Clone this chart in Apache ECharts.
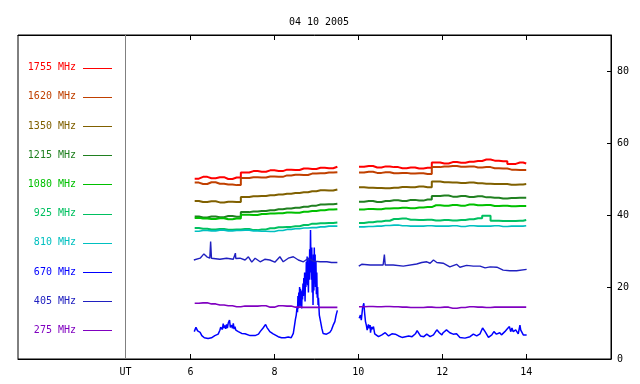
<!DOCTYPE html>
<html>
<head>
<meta charset="utf-8">
<script src="https://cdn.jsdelivr.net/npm/echarts@6/dist/echarts.min.js"></script>
<style>
html, body { margin: 0; padding: 0; background: #fff; }
#chart { width: 640px; height: 384px; }
</style>
</head>
<body>
<div id="chart"></div>
<script>
// title and axis labels
var chartTitle = '04 10 2005';
var utHour = 4.45;
var hourTicks = [6, 8, 10, 12, 14];
var levelTicks = [0, 20, 40, 60, 80];

// frequencies (legend order, top to bottom)
var freqNames = ['1755 MHz', '1620 MHz', '1350 MHz', '1215 MHz', '1080 MHz', '925 MHz', '810 MHz', '670 MHz', '405 MHz', '275 MHz'];
var freqColors = ['#ff0000', '#c04000', '#806000', '#208020', '#00c000', '#00c060', '#00c0c0', '#0000ff', '#2020c0', '#8000c0'];

// common time base (UT hours), '-' = data gap
var hoursA = [6.1, 6.3, 6.5, 6.7, 6.9, 7.1, 7.3, 7.5, 7.7, 7.9, 8.1, 8.3, 8.5, 8.7, 8.9, 9.1, 9.3, 9.5, 9.51, 10.01,
  10.02, 10.25, 10.45, 10.65, 10.85, 11.05, 11.25, 11.45, 11.65, 11.85, 12.05, 12.25, 12.45, 12.65, 12.85, 13.05, 13.25, 13.45, 13.65, 13.85, 14.0];

var mhz1755 = [50.1, 50.6, 50.2, 50.5, 50.0, 50.4, 51.8, 52.2, 52.0, 52.4, 52.2, 52.6, 52.5, 52.9, 52.8, 53.1, 53.0, 53.4, '-', '-',
  53.4, 53.6, 53.2, 53.5, 53.3, 53.0, 53.2, 52.9, 53.1, 54.6, 54.3, 54.7, 54.5, 54.8, 55.0, 55.4, 55.1, 54.9, 54.2, 54.6, 54.3];
var mhz1620 = [49.0, 48.6, 49.1, 48.7, 48.5, 48.3, 50.3, 50.5, 50.4, 50.7, 50.6, 51.0, 51.2, 51.1, 51.5, 51.6, 51.8, 51.9, '-', '-',
  51.8, 52.0, 51.7, 51.9, 51.6, 51.7, 51.5, 51.6, 51.4, 53.3, 53.5, 53.6, 53.4, 53.5, 53.2, 53.3, 53.0, 52.9, 52.6, 52.5, 52.5];
var mhz1350 = [43.9, 43.6, 43.8, 43.5, 43.7, 43.6, 45.0, 45.2, 45.3, 45.5, 45.7, 45.9, 46.1, 46.3, 46.6, 46.9, 46.8, 47.1, '-', '-',
  47.7, 47.6, 47.5, 47.4, 47.6, 47.8, 47.7, 47.9, 47.7, 49.3, 49.1, 49.0, 48.9, 49.0, 48.8, 48.7, 48.6, 48.6, 48.4, 48.5, 48.6];
var mhz1215 = [39.6, 39.3, 39.6, 39.4, 39.7, 39.5, 40.8, 41.0, 41.1, 41.3, 41.6, 41.8, 42.0, 42.3, 42.6, 42.9, 43.0, 43.1, '-', '-',
  43.7, 43.9, 43.6, 43.9, 44.1, 43.9, 44.2, 44.0, 44.3, 45.3, 45.4, 45.1, 45.3, 45.0, 45.2, 44.9, 44.8, 44.6, 44.7, 44.8, 44.8];
var mhz1080 = [39.2, 39.0, 38.9, 39.1, 38.8, 39.0, 40.1, 40.0, 40.3, 40.4, 40.5, 40.7, 40.6, 40.9, 41.1, 41.3, 41.5, 41.6, '-', '-',
  41.5, 41.7, 41.6, 41.8, 41.9, 42.0, 41.9, 42.1, 42.2, 42.7, 42.6, 42.8, 42.6, 42.9, 42.7, 42.8, 42.5, 42.6, 42.4, 42.5, 42.5];
var mhz925 = [36.4, 36.2, 36.0, 36.1, 35.9, 36.0, 36.1, 35.8, 36.0, 36.3, 36.6, 36.7, 36.9, 37.2, 37.6, 37.7, 37.8, 37.9, '-', '-',
  37.8, 38.0, 38.2, 38.4, 38.9, 39.0, 38.7, 38.6, 38.7, 38.5, 38.6, 38.5, 38.6, 38.8, 39.1, 39.8, 38.4, 38.3, 38.3, 38.4, 38.6];
var mhz810 = [35.5, 35.7, 35.6, 35.8, 35.6, 35.7, 35.8, 35.6, 35.5, 35.4, 35.7, 36.0, 36.2, 36.4, 36.5, 36.7, 36.9, 36.9, '-', '-',
  36.7, 36.8, 36.9, 37.1, 37.2, 37.0, 36.9, 36.9, 37.0, 36.9, 36.9, 37.0, 36.8, 37.0, 36.9, 36.9, 37.0, 36.8, 36.9, 36.9, 37.0];
var mhz275 = [15.5, 15.6, 15.3, 15.0, 14.8, 14.5, 14.7, 14.7, 14.8, 14.4, 14.8, 14.7, 14.4, 14.35, 14.35, 14.35, 14.35, 14.35, '-', '-',
  14.5, 14.6, 14.5, 14.6, 14.5, 14.4, 14.3, 14.3, 14.4, 14.3, 14.4, 14.1, 14.3, 14.5, 14.4, 14.3, 14.4, 14.4, 14.4, 14.4, 14.4];

// 405 MHz has its own sampling (narrow spikes)
var hours405 = [6.08, 6.23, 6.32, 6.39, 6.46, 6.48, 6.50, 6.54, 6.70, 6.86, 7.02, 7.07, 7.08, 7.18, 7.30, 7.38, 7.46, 7.54, 7.66, 7.77,
  7.89, 8.01, 8.13, 8.21, 8.33, 8.45, 8.57, 8.69, 8.81, 8.93, 9.09, 9.25, 9.36, 9.50, 9.75,
  10.01, 10.08, 10.28, 10.59, 10.62, 10.64, 10.83, 11.07, 11.39, 11.51, 11.63, 11.71, 11.79, 11.87, 12.02, 12.18, 12.34, 12.42,
  12.58, 12.74, 12.90, 13.02, 13.14, 13.30, 13.45, 13.61, 13.77, 14.01];
var mhz405 = [27.5, 28.0, 29.2, 28.4, 28.0, 32.6, 28.0, 28.0, 27.7, 28.0, 27.7, 29.4, 27.9, 28.0, 27.5, 28.4, 26.9, 28.0, 27.0, 27.7,
  27.5, 26.9, 28.4, 27.0, 28.0, 28.4, 27.5, 27.0, 28.0, 27.2, 27.0, 27.0, 26.8, 26.8, '-',
  25.8, 26.3, 26.1, 26.1, 29.0, 26.1, 26.1, 25.8, 26.4, 26.8, 27.0, 26.6, 27.5, 26.8, 26.6, 25.6, 26.3, 25.5,
  26.0, 25.8, 25.8, 25.3, 25.6, 25.5, 24.7, 24.5, 24.5, 24.9];

// 670 MHz: burst around 8.5-9.1 UT, dense sampling
var hours670 = [6.09, 6.13, 6.17, 6.23, 6.27, 6.33, 6.42, 6.50, 6.58, 6.66, 6.70, 6.72, 6.74, 6.76, 6.78, 6.80, 6.82, 6.84, 6.86, 6.88,
  6.90, 6.93, 6.95, 6.98, 7.00, 7.02, 7.04, 7.06, 7.08, 7.10, 7.14, 7.18, 7.22, 7.26, 7.30, 7.34, 7.42, 7.54, 7.62, 7.66,
  7.70, 7.73, 7.75, 7.77, 7.79, 7.82, 7.85, 7.89, 7.93, 7.97, 8.01, 8.09, 8.17, 8.25, 8.33, 8.40, 8.45, 8.48, 8.50, 8.52,
  8.54, 8.55, 8.56, 8.57, 8.58, 8.59, 8.60, 8.61, 8.62, 8.63, 8.64, 8.65, 8.66, 8.67, 8.68, 8.69, 8.70, 8.71, 8.72, 8.73,
  8.74, 8.75, 8.76, 8.77, 8.78, 8.79, 8.80, 8.81, 8.82, 8.83, 8.84, 8.85, 8.86, 8.87, 8.88, 8.89, 8.90, 8.91, 8.92, 8.93,
  8.94, 8.95, 8.96, 8.97, 8.98, 8.99, 9.00, 9.01, 9.02, 9.03, 9.04, 9.05, 9.07, 9.10, 9.13, 9.16, 9.20, 9.24, 9.28, 9.32,
  9.36, 9.40, 9.44, 9.47, 9.50, 9.75,
  10.02, 10.05, 10.07, 10.10, 10.13, 10.15, 10.17, 10.19, 10.21, 10.22, 10.24, 10.26, 10.28, 10.29, 10.31, 10.32, 10.34, 10.36, 10.39, 10.42,
  10.48, 10.56, 10.64, 10.68, 10.72, 10.80, 10.88, 10.96, 11.04, 11.12, 11.20, 11.28, 11.36, 11.40, 11.48, 11.56, 11.63, 11.71, 11.79, 11.87,
  11.93, 11.99, 12.02, 12.10, 12.18, 12.26, 12.34, 12.42, 12.54, 12.66, 12.74, 12.82, 12.90, 12.96, 12.98, 13.02, 13.10, 13.18, 13.23, 13.29,
  13.37, 13.41, 13.49, 13.55, 13.57, 13.60, 13.63, 13.66, 13.69, 13.75, 13.81, 13.85, 13.87, 13.89, 13.93, 13.97, 14.01];
var mhz670 = [7.6, 8.8, 7.8, 7.4, 6.5, 5.9, 5.7, 5.9, 6.5, 6.9, 8.0, 8.8, 9.0, 8.2, 9.8, 8.6, 9.3, 8.4, 9.6, 8.6,
  10.0, 10.8, 8.8, 9.4, 8.5, 9.9, 8.3, 9.0, 8.0, 8.5, 7.6, 7.8, 7.1, 7.4, 7.0, 7.1, 6.5, 6.5, 6.9, 7.6,
  8.1, 8.6, 9.0, 8.4, 9.6, 8.8, 8.5, 7.6, 7.4, 7.0, 6.7, 6.2, 5.9, 5.9, 6.1, 5.9, 7.1, 9.4, 11.0, 12.2,
  14.5, 13.0, 17.5, 14.0, 18.5, 15.0, 20.0, 14.5, 19.5, 16.0, 18.0, 14.0, 19.0, 16.5, 21.0, 17.5, 22.5, 18.0, 24.0, 16.0,
  23.0, 20.0, 27.0, 21.0, 28.5, 20.5, 25.0, 18.5, 28.0, 22.0, 30.5, 24.0, 35.8, 27.0, 22.0, 31.0, 18.5, 26.0, 15.0, 29.0,
  19.0, 31.0, 21.0, 29.0, 20.0, 27.0, 18.0, 24.0, 17.0, 20.0, 15.0, 17.0, 12.2, 10.4, 8.5, 7.1, 6.8, 6.9, 7.2, 7.4,
  8.1, 9.4, 10.4, 12.2, 13.5, '-',
  11.3, 12.2, 10.8, 14.1, 15.5, 12.7, 10.4, 9.4, 8.0, 7.6, 9.6, 8.5, 9.4, 7.3, 8.9, 8.2, 7.8, 9.0, 7.0, 6.7,
  6.2, 6.7, 7.3, 6.9, 6.4, 7.0, 6.9, 6.4, 6.0, 6.2, 6.4, 6.2, 7.0, 7.9, 6.4, 6.2, 6.9, 6.2, 6.7, 8.1,
  7.3, 6.7, 7.3, 8.1, 7.3, 6.9, 7.0, 6.0, 5.8, 6.2, 6.9, 6.4, 7.0, 8.6, 8.8, 7.6, 6.0, 6.7, 7.6, 6.9,
  7.3, 6.7, 7.6, 8.4, 8.2, 9.0, 7.6, 8.6, 7.6, 8.1, 7.0, 9.4, 8.0, 8.2, 6.7, 7.0, 6.7];

function pairs(hours, vals) {
  return hours.map(function (h, i) { return [h, vals[i]]; });
}

var seriesHours = [hoursA, hoursA, hoursA, hoursA, hoursA, hoursA, hoursA, hours670, hours405, hoursA];
var seriesVals = [mhz1755, mhz1620, mhz1350, mhz1215, mhz1080, mhz925, mhz810, mhz670, mhz405, mhz275];
var seriesWidth = [2, 2, 2, 2, 2, 2, 1.6, 1.5, 1.4, 1.6];

var monoFont = 'DejaVu Sans Mono';

var series = [];
var graphics = [];
for (var i = 0; i < freqNames.length; i++) {
  var s = {
    name: freqNames[i],
    type: 'line',
    data: pairs(seriesHours[i], seriesVals[i]),
    showSymbol: false,
    connectNulls: false,
    lineStyle: { color: freqColors[i], width: seriesWidth[i] },
    itemStyle: { color: freqColors[i] },
    z: 2
  };
  if (seriesHours[i] === hoursA) s.step = 'middle';
  series.push(s);

  // legend entry in the left panel
  var ly = 67.7 + 29.18 * i;
  graphics.push({
    type: 'text', x: 76, y: ly,
    style: { text: freqNames[i], fill: freqColors[i], font: '10px ' + monoFont, align: 'right', verticalAlign: 'middle' }
  });
  graphics.push({
    type: 'line',
    shape: { x1: 83, y1: Math.round(ly) + 0.5, x2: 112, y2: Math.round(ly) + 0.5 },
    style: { stroke: freqColors[i], lineWidth: 1 }
  });
}

// divider between legend panel and data
series[0].markLine = {
  silent: true,
  symbol: 'none',
  label: { show: false },
  lineStyle: { color: '#808080', width: 1, type: 'solid' },
  data: [{ xAxis: utHour }]
};

var chart = echarts.init(document.getElementById('chart'));
var option = {
  animation: false,
  backgroundColor: '#fff',
  title: {
    text: chartTitle,
    left: 314,
    top: 12,
    textAlign: 'center',
    textStyle: { fontFamily: monoFont, fontSize: 10, fontWeight: 'normal', color: '#000' }
  },
  grid: {
    left: 18, top: 35, width: 593, height: 324,
    show: true, borderColor: '#000', borderWidth: 1, backgroundColor: 'transparent'
  },
  xAxis: [
    {
      type: 'value', position: 'bottom', min: 1.89, max: 16.02,
      axisLine: { show: true, lineStyle: { color: '#000' } },
      axisTick: { show: true, inside: true, length: 5, customValues: hourTicks, lineStyle: { color: '#000' } },
      axisLabel: {
        customValues: [utHour].concat(hourTicks), margin: 8,
        fontFamily: monoFont, fontSize: 10, color: '#000',
        formatter: function (v) { return v === utHour ? 'UT' : String(v); }
      },
      splitLine: { show: false }
    },
    {
      type: 'value', position: 'top', min: 1.89, max: 16.02,
      axisLine: { show: true, lineStyle: { color: '#000' } },
      axisTick: { show: true, inside: true, length: 5, customValues: hourTicks, lineStyle: { color: '#000' } },
      axisLabel: { show: false },
      splitLine: { show: false }
    }
  ],
  yAxis: {
    type: 'value', position: 'right', min: 0, max: 90,
    axisLine: { show: true, lineStyle: { color: '#000' } },
    axisTick: { show: true, inside: true, length: 4, customValues: levelTicks, lineStyle: { color: '#000' } },
    axisLabel: { customValues: levelTicks, margin: 6, fontFamily: monoFont, fontSize: 10, color: '#000' },
    splitLine: { show: false }
  },
  graphic: graphics,
  series: series
};
chart.setOption(option);
</script>
</body>
</html>
